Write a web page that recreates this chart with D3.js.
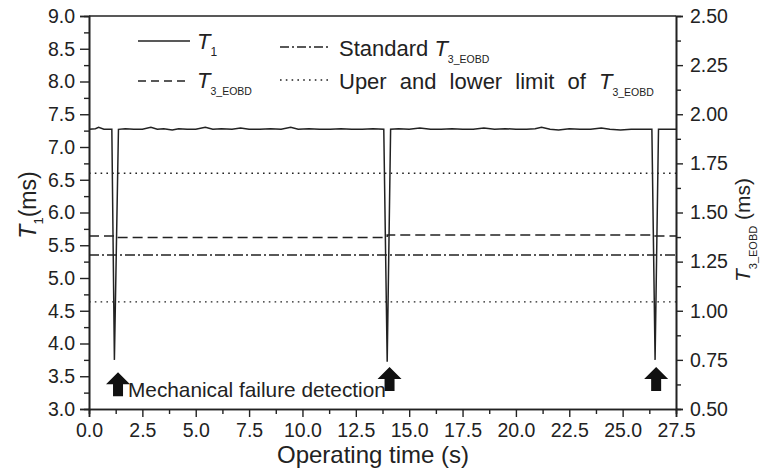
<!DOCTYPE html>
<html>
<head>
<meta charset="utf-8">
<script src="https://cdn.jsdelivr.net/npm/d3@7"></script>
<style>
  body { margin: 0; background: #fff; }
  svg text { font-family: "Liberation Sans", Arial, sans-serif; fill: #222; }
</style>
</head>
<body>
<svg id="chart" width="763" height="474"></svg>
<script>
// T1 trace (s, ms) with the three failure dips
const t1Time = [0, 0.3, 0.45, 0.7, 1.07, 1.19, 1.38, 1.7, 2.1, 2.5, 2.9, 3.2, 3.5, 3.9, 4.2, 4.6, 5.0, 5.45, 5.8, 6.2, 6.7, 7.1, 7.5, 8.0, 8.5, 9.0, 9.45, 9.8, 10.3, 10.8, 11.3, 11.8, 12.3, 12.8, 13.3, 13.81, 13.97, 14.13, 14.5, 15.0, 15.5, 16.0, 16.5, 17.0, 17.5, 18.0, 18.5, 19.0, 19.5, 20.0, 20.5, 20.9, 21.2, 21.6, 22.0, 22.5, 23.0, 23.5, 24.0, 24.4, 24.9, 25.4, 25.9, 26.2, 26.37, 26.52, 26.68, 27.0, 27.5];
const t1Value = [7.27, 7.28, 7.30, 7.27, 7.27, 3.75, 7.27, 7.28, 7.27, 7.27, 7.30, 7.27, 7.28, 7.26, 7.28, 7.27, 7.27, 7.30, 7.27, 7.28, 7.27, 7.29, 7.27, 7.27, 7.28, 7.27, 7.30, 7.27, 7.28, 7.27, 7.27, 7.28, 7.27, 7.27, 7.28, 7.27, 3.72, 7.27, 7.28, 7.27, 7.29, 7.27, 7.27, 7.28, 7.27, 7.27, 7.29, 7.27, 7.28, 7.27, 7.27, 7.28, 7.30, 7.27, 7.26, 7.28, 7.27, 7.27, 7.29, 7.27, 7.26, 7.27, 7.27, 7.27, 7.27, 3.75, 7.27, 7.27, 7.27];

// T3_EOBD (right axis, ms): updated at each failure
const t3Time = [0, 1.19, 13.97, 26.52, 27.5];
const t3Value = [1.380, 1.373, 1.385, 1.381, 1.381];

// reference levels on the right axis (ms)
const standardT3 = 1.284;
const upperLimit = 1.70;
const lowerLimit = 1.045;

// failure arrows: time (s) and tip height on the left axis (ms)
const arrowTime = [1.36, 14.08, 26.57];
const arrowTip = [3.56, 3.64, 3.64];

const xTicks = [0, 2.5, 5, 7.5, 10, 12.5, 15, 17.5, 20, 22.5, 25, 27.5];
const yLeftTicks = [3, 3.5, 4, 4.5, 5, 5.5, 6, 6.5, 7, 7.5, 8, 8.5, 9];
const yRightTicks = [0.5, 0.75, 1.0, 1.25, 1.5, 1.75, 2.0, 2.25, 2.5];

const svg = d3.select('#chart');
const margin = { top: 16, right: 87, bottom: 65, left: 89 };
const W = +svg.attr('width') - margin.left - margin.right;
const H = +svg.attr('height') - margin.top - margin.bottom;
const g = svg.append('g').attr('transform', `translate(${margin.left},${margin.top})`);

const x = d3.scaleLinear().domain([0, 27.5]).range([0, W]);
const yL = d3.scaleLinear().domain([3, 9]).range([H, 0]);
const yR = d3.scaleLinear().domain([0.5, 2.5]).range([H, 0]);

const ink = '#222';
const fmt1 = d3.format('.1f');
const fmt2 = d3.format('.2f');

function minors(ticks) {
  const out = [];
  for (let i = 0; i < ticks.length - 1; i++) out.push((ticks[i] + ticks[i + 1]) / 2);
  return out;
}

function styleAxis(sel) {
  sel.select('.domain').attr('stroke', ink).attr('stroke-width', 1.6);
  sel.selectAll('.tick line').attr('stroke', ink).attr('stroke-width', 1.4);
  sel.selectAll('.tick text').attr('font-size', 19.5).attr('fill', ink);
}

// frame: top edge
g.append('line').attr('x1', 0).attr('x2', W).attr('y1', 0).attr('y2', 0)
  .attr('stroke', ink).attr('stroke-width', 1.6);

// bottom axis
g.append('g').attr('transform', `translate(0,${H})`)
  .call(d3.axisBottom(x).tickValues(minors(xTicks)).tickSize(5).tickFormat(''))
  .call(styleAxis);
g.append('g').attr('transform', `translate(0,${H})`)
  .call(d3.axisBottom(x).tickValues(xTicks).tickSize(8).tickPadding(6).tickFormat(fmt1))
  .call(styleAxis);

// left axis
g.append('g')
  .call(d3.axisLeft(yL).tickValues(minors(yLeftTicks)).tickSize(5).tickFormat(''))
  .call(styleAxis);
g.append('g')
  .call(d3.axisLeft(yL).tickValues(yLeftTicks).tickSize(9).tickPadding(5).tickFormat(fmt1))
  .call(styleAxis);

// right axis
g.append('g').attr('transform', `translate(${W},0)`)
  .call(d3.axisRight(yR).tickValues(minors(yRightTicks)).tickSize(5).tickFormat(''))
  .call(styleAxis);
g.append('g').attr('transform', `translate(${W},0)`)
  .call(d3.axisRight(yR).tickValues(yRightTicks).tickSize(7).tickPadding(7).tickFormat(fmt2))
  .call(styleAxis);

// horizontal reference levels
const levels = [
  { v: upperLimit, dash: '1.6,4.2', w: 1.4 },
  { v: lowerLimit, dash: '1.6,4.2', w: 1.4 },
  { v: standardT3, dash: '10,3,2,3', w: 1.4 }
];
g.selectAll('line.level').data(levels).enter().append('line')
  .attr('class', 'level')
  .attr('x1', 0).attr('x2', W)
  .attr('y1', d => yR(d.v)).attr('y2', d => yR(d.v))
  .attr('stroke', ink).attr('stroke-width', d => d.w)
  .attr('stroke-dasharray', d => d.dash);

// T3_EOBD step line
const t3 = t3Time.map((t, i) => [t, t3Value[i]]);
g.append('path').datum(t3)
  .attr('fill', 'none').attr('stroke', ink).attr('stroke-width', 1.5)
  .attr('stroke-dasharray', '10,5')
  .attr('d', d3.line().x(d => x(d[0])).y(d => yR(d[1])).curve(d3.curveStepAfter));

// T1 trace
const t1 = t1Time.map((t, i) => [t, t1Value[i]]);
g.append('path').datum(t1)
  .attr('fill', 'none').attr('stroke', ink).attr('stroke-width', 1.5)
  .attr('d', d3.line().x(d => x(d[0])).y(d => yL(d[1])));

// failure arrows
const arrowShape = 'M0,0 L12,12 L5,12 L5,24 L-5,24 L-5,12 L-12,12 Z';
g.selectAll('path.arrow').data(arrowTime.map((t, i) => [t, arrowTip[i]]))
  .enter().append('path')
  .attr('class', 'arrow')
  .attr('transform', d => `translate(${x(d[0])},${yL(d[1])})`)
  .attr('d', arrowShape)
  .attr('fill', '#111');

g.append('text')
  .attr('x', x(arrowTime[0]) + 10).attr('y', yL(arrowTip[0]) + 25)
  .attr('font-size', 20.8)
  .text('Mechanical failure detection');

// "T" with a subscript
function tSub(sel, sub, size, subSize, shift) {
  sel.append('tspan').attr('font-style', 'italic').attr('font-size', size).text('T');
  sel.append('tspan').attr('font-size', subSize).attr('dy', shift).text(sub);
}

// legend
const legend = svg.append('g');
const legendRows = [
  { x1: 138, x2: 190, ly: 41, tx: 197, ty: 49, dash: null, pre: '', sub: '1', ws: 0 },
  { x1: 138, x2: 190, ly: 81, tx: 197, ty: 88, dash: '8,5', pre: '', sub: '3_EOBD', ws: 0 },
  { x1: 280, x2: 330, ly: 47, tx: 339, ty: 56, dash: '9,3,2,3', pre: 'Standard ', sub: '3_EOBD', ws: 0 },
  { x1: 280, x2: 330, ly: 80, tx: 339, ty: 89, dash: '1.6,4.2', pre: 'Uper and lower limit of ', sub: '3_EOBD', ws: 7 }
];
legendRows.forEach(r => {
  legend.append('line')
    .attr('x1', r.x1).attr('x2', r.x2).attr('y1', r.ly).attr('y2', r.ly)
    .attr('stroke', ink).attr('stroke-width', 1.5)
    .attr('stroke-dasharray', r.dash);
  const t = legend.append('text').attr('x', r.tx).attr('y', r.ty)
    .attr('font-size', 22).attr('word-spacing', r.ws);
  if (r.pre) t.append('tspan').text(r.pre);
  tSub(t, r.sub, 22, r.sub === '1' ? 12 : 10.5, 7);
});

// axis titles
svg.append('text')
  .attr('x', 373).attr('y', 463)
  .attr('text-anchor', 'middle').attr('font-size', 24)
  .text('Operating time (s)');

const leftTitle = svg.append('text')
  .attr('transform', 'translate(36,205) rotate(-90)')
  .attr('text-anchor', 'middle').attr('font-size', 23);
tSub(leftTitle, '1', 23, 13, 7);
leftTitle.append('tspan').attr('dy', -7).text('(ms)');

const rightTitle = svg.append('text')
  .attr('transform', 'translate(750,230) rotate(-90)')
  .attr('text-anchor', 'middle').attr('font-size', 21);
tSub(rightTitle, '3_EOBD', 21, 11, 7);
rightTitle.append('tspan').attr('dy', -7).text(' (ms)');
</script>
</body>
</html>
